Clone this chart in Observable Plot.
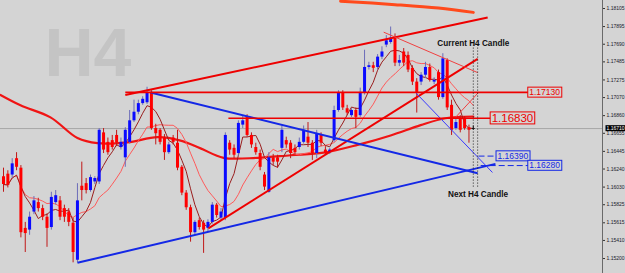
<!DOCTYPE html>
<html><head><meta charset="utf-8">
<script src="https://cdn.jsdelivr.net/npm/d3@7"></script>
<script src="https://cdn.jsdelivr.net/npm/@observablehq/plot@0.6"></script>
<style>html,body{margin:0;padding:0;background:#d4d4d4;overflow:hidden}</style>
</head><body><div id="chart"></div>
<script>
// ---- Candles (EURUSD H4) ----
const opens = [1.1615,1.1618,1.1617,1.1636,1.1625,1.1555,1.1553,1.1574,1.1585,1.1578,1.1568,1.1556,1.1585,1.1587,1.1578,1.1574,1.1561,1.1518,1.1604,1.1607,1.1599,1.1609,1.1609,1.1666,1.1655,1.1657,1.1663,1.1649,1.1637,1.1655,1.1680,1.1690,1.1700,1.1701,1.1713,1.1671,1.1669,1.1660,1.1643,1.1660,1.1654,1.1626,1.1596,1.1579,1.1550,1.1564,1.1561,1.1555,1.1562,1.1582,1.1567,1.1567,1.1654,1.1648,1.1642,1.1675,1.1685,1.1663,1.1649,1.1642,1.1617,1.1597,1.1637,1.1637,1.1648,1.1657,1.1654,1.1648,1.1649,1.1655,1.1661,1.1654,1.1642,1.1663,1.1646,1.1643,1.1657,1.1692,1.1712,1.1694,1.1686,1.1692,1.1686,1.1712,1.1742,1.1744,1.1742,1.1754,1.1768,1.1771,1.1776,1.1747,1.1760,1.1756,1.1741,1.1725,1.1725,1.1733,1.1742,1.1725,1.1736,1.1707,1.1750,1.1698,1.1671,1.1683,1.1683,1.1672,1.1671];
const highs = [1.1625,1.1622,1.1636,1.1643,1.1628,1.1562,1.1574,1.1592,1.1590,1.1582,1.1572,1.1597,1.1599,1.1592,1.1582,1.1578,1.1567,1.1607,1.1632,1.1613,1.1617,1.1615,1.1671,1.1671,1.1660,1.1663,1.1669,1.1660,1.1672,1.1692,1.1704,1.1704,1.1708,1.1719,1.1715,1.1676,1.1671,1.1664,1.1655,1.1663,1.1669,1.1628,1.1599,1.1582,1.1564,1.1567,1.1564,1.1565,1.1585,1.1584,1.1578,1.1666,1.1657,1.1652,1.1680,1.1685,1.1687,1.1666,1.1654,1.1646,1.1620,1.1643,1.1641,1.1640,1.1674,1.1661,1.1657,1.1652,1.1660,1.1674,1.1678,1.1657,1.1669,1.1666,1.1650,1.1648,1.1697,1.1715,1.1715,1.1698,1.1694,1.1695,1.1718,1.1762,1.1748,1.1748,1.1757,1.1766,1.1779,1.1789,1.1781,1.1756,1.1764,1.1760,1.1744,1.1729,1.1736,1.1748,1.1746,1.1730,1.1739,1.1758,1.1752,1.1704,1.1683,1.1686,1.1685,1.1675,1.1674];
const lows = [1.1597,1.1602,1.1613,1.1622,1.1544,1.1527,1.1547,1.1571,1.1574,1.1564,1.1533,1.1553,1.1582,1.1564,1.1562,1.1557,1.1515,1.1515,1.1587,1.1595,1.1597,1.1606,1.1606,1.1642,1.1640,1.1646,1.1650,1.1646,1.1626,1.1653,1.1678,1.1687,1.1698,1.1699,1.1669,1.1652,1.1652,1.1634,1.1641,1.1652,1.1622,1.1593,1.1576,1.1539,1.1547,1.1553,1.1526,1.1551,1.1560,1.1567,1.1564,1.1564,1.1640,1.1636,1.1639,1.1671,1.1661,1.1648,1.1640,1.1622,1.1599,1.1596,1.1628,1.1625,1.1643,1.1648,1.1636,1.1640,1.1646,1.1653,1.1649,1.1634,1.1636,1.1650,1.1640,1.1641,1.1655,1.1690,1.1692,1.1686,1.1684,1.1671,1.1684,1.1710,1.1739,1.1736,1.1739,1.1751,1.1765,1.1769,1.1743,1.1743,1.1743,1.1736,1.1721,1.1689,1.1721,1.1729,1.1725,1.1722,1.1704,1.1705,1.1692,1.1663,1.1669,1.1666,1.1669,1.1654,1.1669];
const closes = [1.1606,1.1605,1.1630,1.1626,1.1550,1.1549,1.1568,1.1587,1.1578,1.1568,1.1555,1.1591,1.1593,1.1568,1.1568,1.1562,1.1527,1.1587,1.1599,1.1599,1.1614,1.1613,1.1669,1.1646,1.1643,1.1649,1.1654,1.1655,1.1669,1.1680,1.1690,1.1700,1.1705,1.1713,1.1671,1.1665,1.1655,1.1643,1.1652,1.1655,1.1625,1.1596,1.1579,1.1550,1.1562,1.1556,1.1553,1.1562,1.1582,1.1570,1.1574,1.1663,1.1646,1.1640,1.1677,1.1680,1.1663,1.1652,1.1643,1.1626,1.1603,1.1637,1.1632,1.1632,1.1669,1.1652,1.1642,1.1643,1.1655,1.1669,1.1654,1.1642,1.1665,1.1654,1.1642,1.1646,1.1692,1.1712,1.1695,1.1689,1.1692,1.1684,1.1713,1.1742,1.1744,1.1741,1.1754,1.1760,1.1773,1.1776,1.1747,1.1750,1.1747,1.1739,1.1725,1.1713,1.1733,1.1742,1.1727,1.1727,1.1707,1.1752,1.1695,1.1669,1.1678,1.1669,1.1671,1.1669,1.1670];

// slow moving average (thick red) and very slow one (orange, top)
const slowMaX = [-0.7,3.9,10.8,17.0,21.6,28.5,35.4,40.7,45.3,50.6,58.4,66.0,73.6,81.4,89.0,95.9,101.6,108.0];
const slowMaY = [1.1710,1.1698,1.1684,1.1660,1.1654,1.1655,1.1661,1.1657,1.1648,1.1637,1.1637,1.1640,1.1643,1.1652,1.1663,1.1675,1.1683,1.1685];
const topMaX = [77.5,90.0,100.0,108.0];
const topMaY = [1.1819,1.1815,1.1811,1.1806];

// trend lines (candle index, price)
const redTrend = [{x1:28.0,y1:1.1710,x2:111.3,y2:1.1800},{x1:47.1,y1:1.1555,x2:109.0,y2:1.1752}];
const redThin = [{x1:87.4,y1:1.1783,x2:109.0,y2:1.1736},{x1:103.9,y1:1.1684,x2:109.2,y2:1.1713}];
const blueTrend = [{x1:33.8,y1:1.1713,x2:109.0,y2:1.1619},{x1:17.0,y1:1.1515,x2:113.1,y2:1.1630}];
const blueThin = [{x1:94.7,y1:1.1713,x2:112.4,y2:1.1620}];

// price levels
const redLevels = [1.17130, 1.16830];
const redLevelStart = [28.0, 51.7];
const redLevelEnd = [120.7, 112.4];
const redLabelX = [124.4, 117.0];
const blueLevels = [1.16390, 1.16280];
const blueLevelStart = [109.2, 109.7];
const blueLevelEnd = [113.6, 120.7];
const blueLabelX = [117.1, 124.4];

const currentPrice = 1.16710;
const candleMarkers = [108, 109];
const markerTop = 1.1768, markerBottom = 1.1602;

const yTicks = [1.18105,1.17895,1.17690,1.17485,1.17275,1.17070,1.16860,1.16655,1.16445,1.16240,1.16030,1.15825,1.15615,1.15410,1.15200];

const candles = opens.map((o,i)=>({i,o,h:highs[i],l:lows[i],c:closes[i]}));
const up = d => d.c > d.o, doji = d => Math.abs(d.c - d.o) < 0.00015;
const BG = "#d4d4d4";
const RED = "#ee0000", BLUE = "#1428e6";

const rl = redLevels.map((y,k)=>({y,x1:redLevelStart[k],x2:redLevelEnd[k],lx:redLabelX[k]}));
const bl = blueLevels.map((y,k)=>({y,x1:blueLevelStart[k],x2:blueLevelEnd[k],lx:blueLabelX[k]}));

const chart = Plot.plot({
  width: 625, height: 273,
  marginLeft: 0, marginRight: 23, marginTop: 0, marginBottom: 0,
  style: {background: BG, fontFamily: "Liberation Sans, Arial, sans-serif"},
  x: {domain: [-0.69, 137.7], axis: null},
  y: {domain: [1.15026, 1.18198]},
  marks: [
    Plot.text(["H4"], {frameAnchor:"top-left", dx:44, dy:27, textAnchor:"start", lineAnchor:"top", fontSize:68, fontWeight:"bold", fill:"#c4c4c4"}),
    Plot.ruleY([currentPrice], {stroke:"#a6a6a6", strokeWidth:1}),
    Plot.line(slowMaX.map((x,k)=>({x,y:slowMaY[k]})), {x:"x", y:"y", stroke:"#f01414", strokeWidth:2.2, curve:"catmull-rom"}),
    Plot.line(topMaX.map((x,k)=>({x,y:topMaY[k]})), {x:"x", y:"y", stroke:"#ff4a1c", strokeWidth:3, curve:"catmull-rom"}),
    Plot.lineY(candles, Plot.windowY({k:12, anchor:"end"}, {x:"i", y:"c", stroke:"#ff5a5a", strokeWidth:1})),
    Plot.lineY(candles, Plot.windowY({k:5, anchor:"end"}, {x:"i", y:"c", stroke:"#9a1e1e", strokeWidth:1})),
    Plot.ruleX(candles, {x:"i", y1:"l", y2:"h", stroke: d => doji(d) ? "#111" : up(d) ? "#6c6cb8" : "#c01818", strokeWidth:1}),
    Plot.ruleX(candles, {x:"i", y1:"o", y2:"c", stroke: d => doji(d) ? "#111" : up(d) ? "#0a0aff" : "#ff0000", strokeWidth:3}),
    Plot.link(redTrend, {x1:"x1", y1:"y1", x2:"x2", y2:"y2", stroke:RED, strokeWidth:2}),
    Plot.link(redThin, {x1:"x1", y1:"y1", x2:"x2", y2:"y2", stroke:"#f04040", strokeWidth:1}),
    Plot.link(blueTrend, {x1:"x1", y1:"y1", x2:"x2", y2:"y2", stroke:BLUE, strokeWidth:2}),
    Plot.link(blueThin, {x1:"x1", y1:"y1", x2:"x2", y2:"y2", stroke:"#3a3aff", strokeWidth:1}),
    Plot.link(rl, {x1:"x1", x2:"x2", y1:"y", y2:"y", stroke:RED, strokeWidth:1.6}),
    Plot.link(bl, {x1:"x1", x2:"x2", y1:"y", y2:"y", stroke:BLUE, strokeWidth:1, strokeDasharray:"6,3"}),
    Plot.ruleX(candleMarkers, {y1:markerTop, y2:markerBottom, stroke:"#222", strokeWidth:1, strokeDasharray:"1,2"}),
    Plot.text(rl.slice(0,1), {x:"lx", y:"y", text:d=>d.y.toFixed(5), fill:RED, fontSize:8.5}),
    Plot.text(rl.slice(1), {x:"lx", y:"y", text:d=>d.y.toFixed(5), fill:RED, fontSize:11.5}),
    Plot.text(bl, {x:"lx", y:"y", text:d=>d.y.toFixed(5), fill:BLUE, fontSize:8.5}),
    Plot.text(["Current H4 Candle"], {x:108, y:1.1770, fontSize:8.2, fontWeight:"bold", fill:"#111"}),
    Plot.text(["Next H4 Candle"], {x:109.1, y:1.1594, fontSize:8.2, fontWeight:"bold", fill:"#111"}),
    Plot.frame({anchor:"right", stroke:"#6a6a6a"}),
    Plot.axisY(yTicks, {anchor:"right", tickSize:2, tickPadding:2, fontSize:5, tickFormat:d=>d.toFixed(5), stroke:"#333", fill:"#1a1a2a"}),
    Plot.text([currentPrice], {y:d=>d, frameAnchor:"right", dx:4, textAnchor:"start", text:d=>d.toFixed(5), fill:"#fff", fontSize:5})
  ]
});
document.getElementById("chart").append(chart);

const ns = "http://www.w3.org/2000/svg";
const boxed = new Set([...redLevels, ...blueLevels].map(v => v.toFixed(5)));
const curText = currentPrice.toFixed(5);
chart.querySelectorAll("text").forEach(t => {
  try {
    const s = t.textContent;
    if (!boxed.has(s) && s !== curText) return;
    const b = t.getBBox();
    const r = document.createElementNS(ns, "rect");
    if (s === curText) {
      r.setAttribute("x", b.x - 1); r.setAttribute("y", b.y);
      r.setAttribute("width", b.width + 4); r.setAttribute("height", b.height);
      r.setAttribute("fill", "#000");
    } else {
      const col = t.getAttribute("fill") || (t.parentNode && t.parentNode.getAttribute("fill")) || "#e00";
      r.setAttribute("x", b.x - 1.5); r.setAttribute("y", b.y);
      r.setAttribute("width", b.width + 3); r.setAttribute("height", b.height);
      r.setAttribute("fill", BG); r.setAttribute("stroke", col); r.setAttribute("stroke-width", 1);
    }
    const tr = t.getAttribute("transform");
    if (tr) r.setAttribute("transform", tr);
    t.parentNode.insertBefore(r, t);
  } catch (e) {}
});
</script></body></html>
